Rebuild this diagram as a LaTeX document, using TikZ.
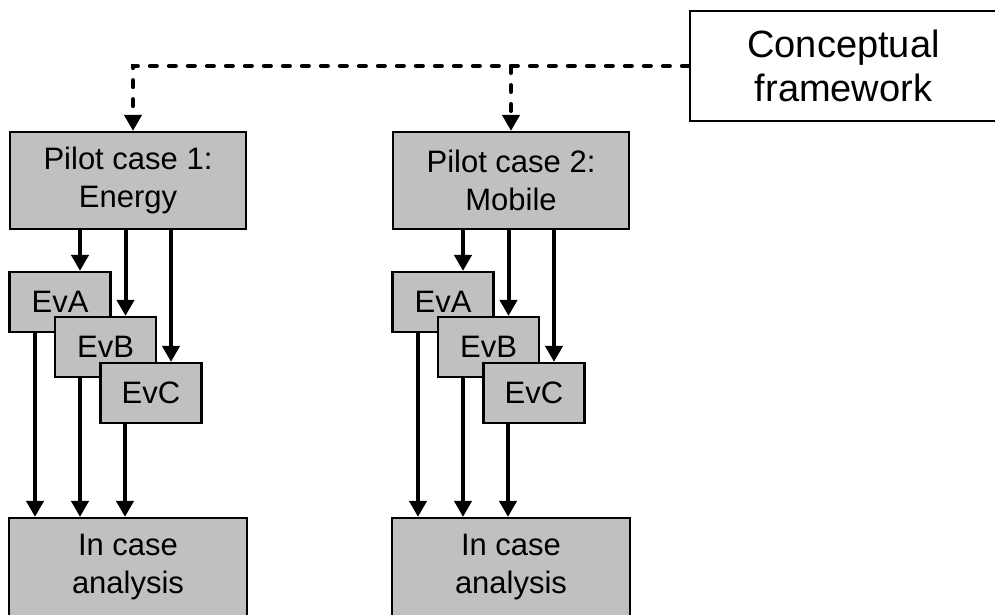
\documentclass[tikz,border=0pt]{standalone}
\usepackage{fontspec}
\setmainfont{Liberation Sans}
\usetikzlibrary{arrows.meta}
\definecolor{boxgray}{HTML}{C0C0C0}
\begin{document}
\begin{tikzpicture}[x=1pt,y=-1pt,
  graybox/.style={draw=black, line width=2.2pt, fill=boxgray, inner sep=0pt,
    align=center, font=\fontsize{31}{38}\selectfont},
  pilotbox/.style={graybox, minimum width=236pt, minimum height=97pt},
  evbox/.style={graybox, minimum width=101pt, minimum height=60pt},
  casebox/.style={graybox, minimum width=238pt, minimum height=98pt},
  framebox/.style={draw=black, line width=2.2pt, fill=white, inner sep=0pt,
    align=center, minimum width=307pt, minimum height=110pt,
    font=\fontsize{38}{44}\selectfont},
  arr/.style={line width=4pt, -{Triangle[length=16pt,width=17pt]}},
  dasharr/.style={line width=4pt, line cap=round, dash pattern=on 7pt off 12pt,
    -{Triangle[length=16pt,width=17pt]}}
]
\useasboundingbox (0,0) rectangle (995,614);

% conceptual framework box (runs off the right edge)
\node[framebox] (concept) at (843.5,66) {Conceptual\\framework};

% two pilot case columns
\foreach \c/\dx/\title in {1/0/{Pilot case 1:\\Energy}, 2/383/{Pilot case 2:\\Mobile}} {
  \node[pilotbox] (pilot\c) at (128+\dx,180.5) {\title};
  \node[evbox] (evA\c) at (60+\dx,302) {EvA};
  \node[evbox] (evB\c) at (105.5+\dx,347) {EvB};
  \node[evbox] (evC\c) at (151+\dx,393) {EvC};
  \node[casebox] (case\c) at (128+\dx,567) {In case\\analysis};
  % pilot case feeds each evaluation
  \foreach \e in {A,B,C} {
    \draw[arr] ([xshift=20pt]ev\e\c.north |- pilot\c.south) -- ([xshift=20pt]ev\e\c.north);
  }
  % evaluations feed the in-case analysis
  \draw[arr] ([xshift=-25pt,yshift=2pt]evA\c.south) -- ([xshift=-25pt]evA\c.south |- case\c.north);
  \draw[arr] ([xshift=-25.5pt,yshift=2pt]evB\c.south) -- ([xshift=-25.5pt]evB\c.south |- case\c.north);
  \draw[arr] ([xshift=-26pt,yshift=2pt]evC\c.south) -- ([xshift=-26pt]evC\c.south |- case\c.north);
}

% dashed links from the conceptual framework
\draw[dasharr] (concept.west) -| ([xshift=5pt]pilot1.north);
\draw[dasharr] (concept.west -| pilot2.north) -- (pilot2.north);
\end{tikzpicture}
\end{document}
